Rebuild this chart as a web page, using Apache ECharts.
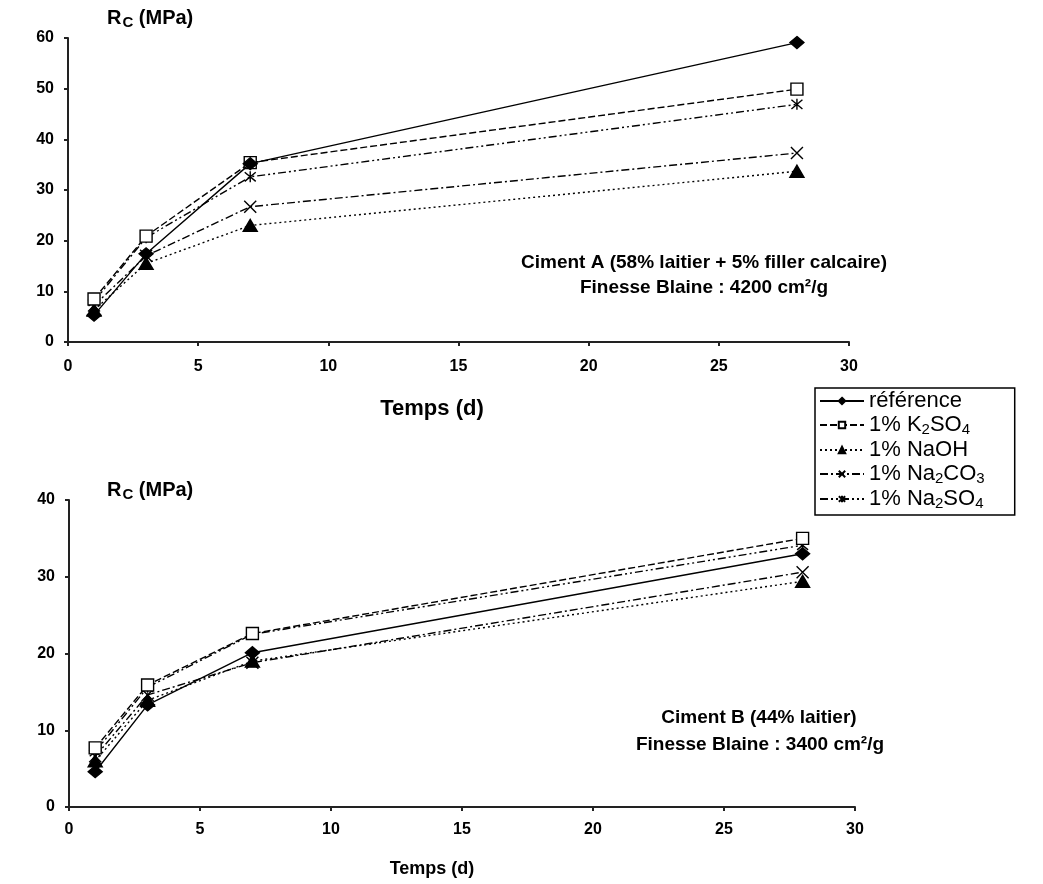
<!DOCTYPE html>
<html>
<head>
<meta charset="utf-8">
<title>Résistance en compression</title>
<script src="https://cdn.jsdelivr.net/npm/echarts@6/dist/echarts.min.js"></script>
<style>
  html, body { margin: 0; padding: 0; background: #fff; }
  #chart { width: 1043px; height: 884px; }
</style>
</head>
<body>
<div id="chart"></div>
<script>
// Ages de mesure (jours)
const ages = [1, 3, 7, 28];

// Ciment A : Rc (MPa)
const cimentA_reference = [5.3, 17.4, 35.2, 59.1];
const cimentA_K2SO4     = [8.5, 20.9, 35.4, 49.9];
const cimentA_NaOH      = [6.3, 15.5, 23.0, 33.7];
const cimentA_Na2CO3    = [7.2, 17.0, 26.7, 37.3];
const cimentA_Na2SO4    = [8.0, 20.6, 32.6, 46.9];

// Ciment B : Rc (MPa)
const cimentB_reference = [4.6, 13.3, 20.1, 33.0];
const cimentB_K2SO4     = [7.7, 15.9, 22.6, 35.0];
const cimentB_NaOH      = [6.0, 13.9, 19.0, 29.4];
const cimentB_Na2CO3    = [6.6, 14.6, 18.8, 30.6];
const cimentB_Na2SO4    = [7.2, 15.6, 22.5, 34.1];

const xTicks = [0, 5, 10, 15, 20, 25, 30];
const yTicksA = [0, 10, 20, 30, 40, 50, 60];
const yTicksB = [0, 10, 20, 30, 40];

const seriesNames = ['référence', '1% K2SO4', '1% NaOH', '1% Na2CO3', '1% Na2SO4'];

const crossPath = 'path://M0,0L10,10M10,0L0,10';
const starPath = 'path://M0,0L10,10M10,0L0,10M5,-1L5,11';

const styles = [
  { symbol: 'diamond', symbolSize: [14, 12], dash: 'solid', fill: '#000' },
  { symbol: 'rect', symbolSize: 12, dash: [7, 3], fill: '#fff' },
  { symbol: 'triangle', symbolSize: [14, 12], dash: [2, 3], fill: '#000' },
  { symbol: crossPath, symbolSize: 12, dash: [8, 3, 2, 3], fill: 'none' },
  { symbol: starPath, symbolSize: 11, dash: [8, 3, 2, 3, 2, 3], fill: 'none' }
];

const dataA = [cimentA_reference, cimentA_K2SO4, cimentA_NaOH, cimentA_Na2CO3, cimentA_Na2SO4];
const dataB = [cimentB_reference, cimentB_K2SO4, cimentB_NaOH, cimentB_Na2CO3, cimentB_Na2SO4];

function makeSeries(values, idx) {
  return values.map(function (vals, i) {
    const st = styles[i];
    return {
      name: seriesNames[i],
      type: 'line',
      xAxisIndex: idx,
      yAxisIndex: idx,
      data: ages.map(function (a, k) { return [a, vals[k]]; }),
      symbol: st.symbol,
      symbolSize: st.symbolSize,
      showAllSymbol: true,
      lineStyle: { color: '#000', width: 1.4, type: st.dash },
      itemStyle: { color: st.fill, borderColor: '#000', borderWidth: 1.4 },
      z: 10 - i,
      animation: false
    };
  });
}

const axisFont = { fontFamily: 'Liberation Sans', fontWeight: 'bold', fontSize: 16, color: '#000' };

function xAxis(gridIndex, margin) {
  return {
    type: 'value', gridIndex: gridIndex, min: 0, max: 30, interval: 5,
    axisLine: { lineStyle: { color: '#222', width: 2 } },
    axisTick: { show: true, length: 4, lineStyle: { color: '#222', width: 2 } },
    axisLabel: Object.assign({ margin: margin, formatter: function (v) { return xTicks.indexOf(v) >= 0 ? String(v) : ''; } }, axisFont),
    splitLine: { show: false }
  };
}
function yAxis(gridIndex, max, ticks) {
  return {
    type: 'value', gridIndex: gridIndex, min: 0, max: max, interval: 10,
    axisLine: { show: true, lineStyle: { color: '#222', width: 2 } },
    axisTick: { show: true, length: 4, lineStyle: { color: '#222', width: 2 } },
    axisLabel: Object.assign({ margin: 14, formatter: function (v) { return ticks.indexOf(v) >= 0 ? String(v) : ''; } }, axisFont),
    splitLine: { show: false }
  };
}

const legendRich = {
  n: { fontFamily: 'Liberation Sans', fontSize: 22, color: '#000', lineHeight: 24 },
  s: { fontFamily: 'Liberation Sans', fontSize: 15, color: '#000', verticalAlign: 'bottom', padding: [7, 0, 0, 0] }
};
// chiffres placés après une lettre -> indice
function legendLabel(name) {
  let out = '';
  for (let i = 0; i < name.length; i++) {
    const c = name[i];
    if (/\d/.test(c) && i > 0 && /[A-Za-z]/.test(name[i - 1])) out += '{s|' + c + '}';
    else out += '{n|' + c + '}';
  }
  return out;
}

const titleRich = {
  b: { fontFamily: 'Liberation Sans', fontWeight: 'bold', fontSize: 20, color: '#000' },
  s: { fontFamily: 'Liberation Sans', fontWeight: 'bold', fontSize: 15, color: '#000', padding: [9, 0, 0, 1] }
};
const noteFont = 'bold 19px "Liberation Sans"';

const chart = echarts.init(document.getElementById('chart'), null, { renderer: 'canvas' });
chart.setOption({
  backgroundColor: '#fff',
  animation: false,
  grid: [
    { left: 68, top: 38, width: 781, height: 304 },
    { left: 69, top: 500, width: 786, height: 307 }
  ],
  xAxis: [xAxis(0, 17), xAxis(1, 15)],
  yAxis: [yAxis(0, 60, yTicksA), yAxis(1, 40, yTicksB)],
  legend: {
    data: seriesNames,
    orient: 'vertical',
    left: 815, top: 388,
    padding: [2, 30, 4, 4],
    itemGap: 2,
    itemWidth: 44,
    itemHeight: 8,
    backgroundColor: '#fff',
    borderColor: '#000',
    borderWidth: 1.5,
    borderRadius: 0,
    selectedMode: false,
    formatter: legendLabel,
    textStyle: { rich: legendRich }
  },
  series: makeSeries(dataA, 0).concat(makeSeries(dataB, 1)),
  graphic: [
    { type: 'text', left: 107, top: 8, style: { text: '{b|R}{s|C}{b| (MPa)}', rich: titleRich } },
    { type: 'text', left: 107, top: 480, style: { text: '{b|R}{s|C}{b| (MPa)}', rich: titleRich } },
    { type: 'text', x: 432, y: 409, style: { text: 'Temps (d)', font: 'bold 22px "Liberation Sans"', fill: '#000', align: 'center', verticalAlign: 'middle' } },
    { type: 'text', x: 432, y: 869, style: { text: 'Temps (d)', font: 'bold 18px "Liberation Sans"', fill: '#000', align: 'center', verticalAlign: 'middle' } },
    { type: 'text', x: 704, y: 263, style: { text: 'Ciment A (58% laitier + 5% filler calcaire)', font: noteFont, fill: '#000', align: 'center', verticalAlign: 'middle' } },
    { type: 'text', x: 704, y: 288, style: { text: 'Finesse Blaine : 4200 cm²/g', font: noteFont, fill: '#000', align: 'center', verticalAlign: 'middle' } },
    { type: 'text', x: 759, y: 718, style: { text: 'Ciment B (44% laitier)', font: noteFont, fill: '#000', align: 'center', verticalAlign: 'middle' } },
    { type: 'text', x: 760, y: 745, style: { text: 'Finesse Blaine : 3400 cm²/g', font: noteFont, fill: '#000', align: 'center', verticalAlign: 'middle' } }
  ]
});
</script>
</body>
</html>
